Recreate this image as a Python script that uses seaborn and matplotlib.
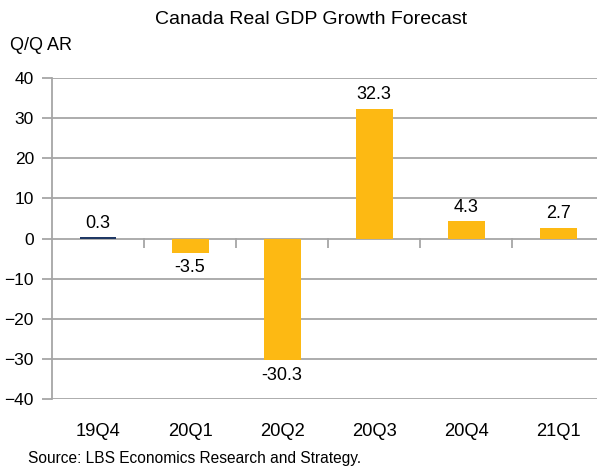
import matplotlib
matplotlib.use("Agg")
import matplotlib.pyplot as plt
import seaborn as sns
import pandas as pd

quarters = ["19Q4", "20Q1", "20Q2", "20Q3", "20Q4", "21Q1"]
growth = [0.3, -3.5, -30.3, 32.3, 4.3, 2.7]
bar_colors = ["#1F3864", "#FDB913", "#FDB913", "#FDB913", "#FDB913", "#FDB913"]
y_ticks = [40, 30, 20, 10, 0, -10, -20, -30, -40]

sns.set_theme(style="white")
plt.rcParams['font.family'] = ['Liberation Sans', 'DejaVu Sans']

df = pd.DataFrame({"quarter": quarters, "growth": growth})

W, H = 597, 471
fig = plt.figure(figsize=(W / 100, H / 100), dpi=100)
ax = fig.add_axes([52 / W, 1 - 399 / H, 545 / W, 321 / H])

sns.barplot(data=df, x="quarter", y="growth", hue="quarter", palette=bar_colors,
            legend=False, width=0.4, ax=ax, saturation=1, linewidth=0)

ax.set_ylim(-40, 40)
ax.set_xlim(-0.5, 5.42)
ax.set_yticks(y_ticks)
ax.yaxis.grid(True, color="#A6A6A6", linewidth=1.3)
ax.set_axisbelow(True)
for s in ["top", "right", "bottom"]:
    ax.spines[s].set_visible(False)
ax.spines["left"].set_color("#A6A6A6")
ax.spines["left"].set_linewidth(1.3)
ax.tick_params(axis="y", left=True, length=7, width=1.3, color="#A6A6A6",
               labelsize=12.5, labelcolor="black", pad=6)
ax.tick_params(axis="x", bottom=False, length=0, labelsize=13.2, labelcolor="black", pad=17)
ax.set_xlabel("")
ax.set_ylabel("")

# category boundary ticks on zero line
sec = ax.secondary_xaxis(0.5)
sec.set_xticks([i + 0.5 for i in range(len(quarters) - 1)])
sec.set_xticklabels([])
for s in sec.spines.values():
    s.set_visible(False)
sec.tick_params(axis="x", length=7, width=1.3, color="#A6A6A6", direction="in")

for i, v in enumerate(growth):
    if v >= 0:
        ax.annotate(f"{v:.1f}", (i, v), xytext=(0, 4), textcoords="offset points",
                    ha="center", va="bottom", fontsize=13, color="black")
    else:
        ax.annotate(f"{v:.1f}", (i, v), xytext=(0, -5), textcoords="offset points",
                    ha="center", va="top", fontsize=13, color="black")

fig.text(311 / W, 1 - 19 / H, "Canada Real GDP Growth Forecast", ha="center", va="center",
         fontsize=14, color="black")
fig.text(10 / W, 1 - 45 / H, "Q/Q AR", ha="left", va="center", fontsize=13, color="black")
fig.text(28 / W, 1 - 459 / H, "Source: LBS Economics Research and Strategy.", ha="left",
         va="center", fontsize=11.2, color="black")

fig.savefig("out.png", dpi=100)
